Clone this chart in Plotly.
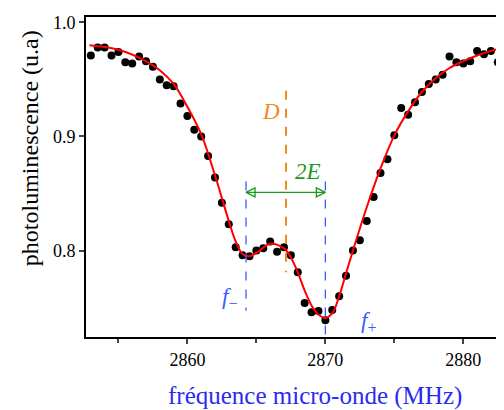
import plotly.graph_objects as go

# measured points (MHz, photoluminescence)
freq = [2853.0 + 0.5 * i for i in range(61)]
signal = [0.971, 0.978, 0.978, 0.971, 0.974, 0.965, 0.964, 0.970, 0.966, 0.961,
          0.950, 0.945, 0.944, 0.929, 0.918, 0.906, 0.900, 0.883, 0.864, 0.842,
          0.823, 0.803, 0.796, 0.795, 0.800, 0.802, 0.808, 0.799, 0.803, 0.796,
          0.781, 0.754, 0.746, 0.747, 0.739, 0.748, 0.760, 0.778, 0.800, 0.809,
          0.826, 0.847, 0.868, 0.880, 0.901, 0.925, 0.919, 0.930, 0.939, 0.946,
          0.950, 0.954, 0.970, 0.965, 0.964, 0.966, 0.975, 0.972, 0.975, 0.965,
          0.980]

# fitted curve
fit_freq = [2852.9, 2855, 2857, 2858, 2859, 2860, 2861, 2862, 2863, 2863.5, 2864,
            2864.5, 2865, 2866, 2867, 2867.5, 2868, 2868.5, 2869, 2869.5, 2870,
            2870.5, 2871, 2871.5, 2872, 2873, 2874, 2875, 2876, 2877, 2878,
            2879, 2880, 2881, 2882, 2883]
fit_val = [0.980, 0.976, 0.966, 0.958, 0.946, 0.926, 0.902, 0.866, 0.826, 0.808, 0.797,
           0.795, 0.798, 0.806, 0.802, 0.794, 0.781, 0.765, 0.752, 0.744, 0.741,
           0.745, 0.760, 0.780, 0.800, 0.838, 0.872, 0.901, 0.922, 0.939, 0.951,
           0.960, 0.966, 0.971, 0.975, 0.978]

f_minus = 2864.25
f_plus = 2870.0
d_center = 2867.15
arrow_y = 0.851
x_ticks = [2860, 2870, 2880]
y_ticks = [0.8, 0.9, 1.0]
y_ticktext = ["0.8", "0.9", "1.0"]

BLUE = "#3a5cff"
TITLE_BLUE = "#2b2bf0"
ORANGE = "#f08a1c"
GREEN = "#1c9a1c"
FONT = "Liberation Serif"

fig = go.Figure()
fig.add_trace(go.Scatter(x=freq, y=signal, mode="markers",
                         marker=dict(color="black", size=8), showlegend=False))
fig.add_trace(go.Scatter(x=fit_freq, y=fit_val, mode="lines", line_shape="spline",
                         line=dict(color="red", width=2), showlegend=False))

# vertical dashed lines
fig.add_trace(go.Scatter(x=[f_minus, f_minus], y=[0.8605, 0.7474], mode="lines",
                         line=dict(color=BLUE, width=1.3, dash="dash"), showlegend=False))
fig.add_trace(go.Scatter(x=[f_plus, f_plus], y=[0.8605, 0.72], mode="lines",
                         line=dict(color=BLUE, width=1.3, dash="dash"), showlegend=False))
fig.add_trace(go.Scatter(x=[d_center, d_center], y=[0.940, 0.781], mode="lines",
                         line=dict(color=ORANGE, width=2, dash="dash"), showlegend=False))

# double arrow 2E
fig.add_trace(go.Scatter(x=[f_minus, f_plus], y=[arrow_y, arrow_y], mode="lines+markers",
                         line=dict(color=GREEN, width=1.3),
                         marker=dict(symbol=["arrow-left-open", "arrow-right-open"], size=9,
                                     color=GREEN, line=dict(color=GREEN, width=1.3)),
                         cliponaxis=False, showlegend=False))

label_font = dict(family=FONT, size=23)
fig.add_annotation(x=2868.77, y=0.869, text="<i>2E</i>", showarrow=False,
                   xanchor="center", yanchor="middle", font=dict(label_font, color=GREEN))
fig.add_annotation(x=2866.09, y=0.9216, text="<i>D</i>", showarrow=False,
                   xanchor="center", yanchor="middle", font=dict(label_font, color=ORANGE))
fig.add_annotation(x=2863.06, y=0.7585, text="<i>f</i><sub>−</sub>", showarrow=False,
                   xanchor="center", yanchor="middle", font=dict(label_font, color=BLUE))
fig.add_annotation(x=2873.1, y=0.7375, text="<i>f</i><sub>+</sub>", showarrow=False,
                   xanchor="center", yanchor="middle", font=dict(label_font, color=BLUE))

# axis titles
fig.add_annotation(x=0.548, y=-0.184, xref="paper", yref="paper",
                   xanchor="center", yanchor="middle",
                   text="fréquence micro-onde (MHz)", showarrow=False,
                   font=dict(family=FONT, size=25, color=TITLE_BLUE))
fig.add_annotation(x=-0.134, y=0.59, xref="paper", yref="paper", textangle=-90,
                   xanchor="center", yanchor="middle",
                   text="photoluminescence (u.a)", showarrow=False,
                   font=dict(family=FONT, size=24, color="black"))

# page body has an 8px margin: figure starts at (8, 8) in the window
fig.update_layout(
    width=496, height=402,
    margin=dict(l=78, r=0, t=9, b=73),
    paper_bgcolor="white", plot_bgcolor="white",
    font=dict(family=FONT, size=18, color="black"),
)
fig.update_xaxes(range=[2852.65, 2882.95], tickvals=x_ticks, ticks="outside",
                 ticklen=5, tickwidth=1.5, showline=True, linewidth=2, linecolor="black",
                 mirror=True, showgrid=False, zeroline=False, automargin=False,
                 minor=dict(dtick=5, tick0=2855, ticks="outside", ticklen=4, tickwidth=1.5))
fig.update_yaxes(range=[0.7243, 1.0047], tickvals=y_ticks, ticktext=y_ticktext,
                 ticks="outside", ticklen=5, tickwidth=1.5, showline=True, linewidth=2,
                 linecolor="black", mirror=False, showgrid=False, zeroline=False,
                 automargin=False)

fig.write_html("out.html")
